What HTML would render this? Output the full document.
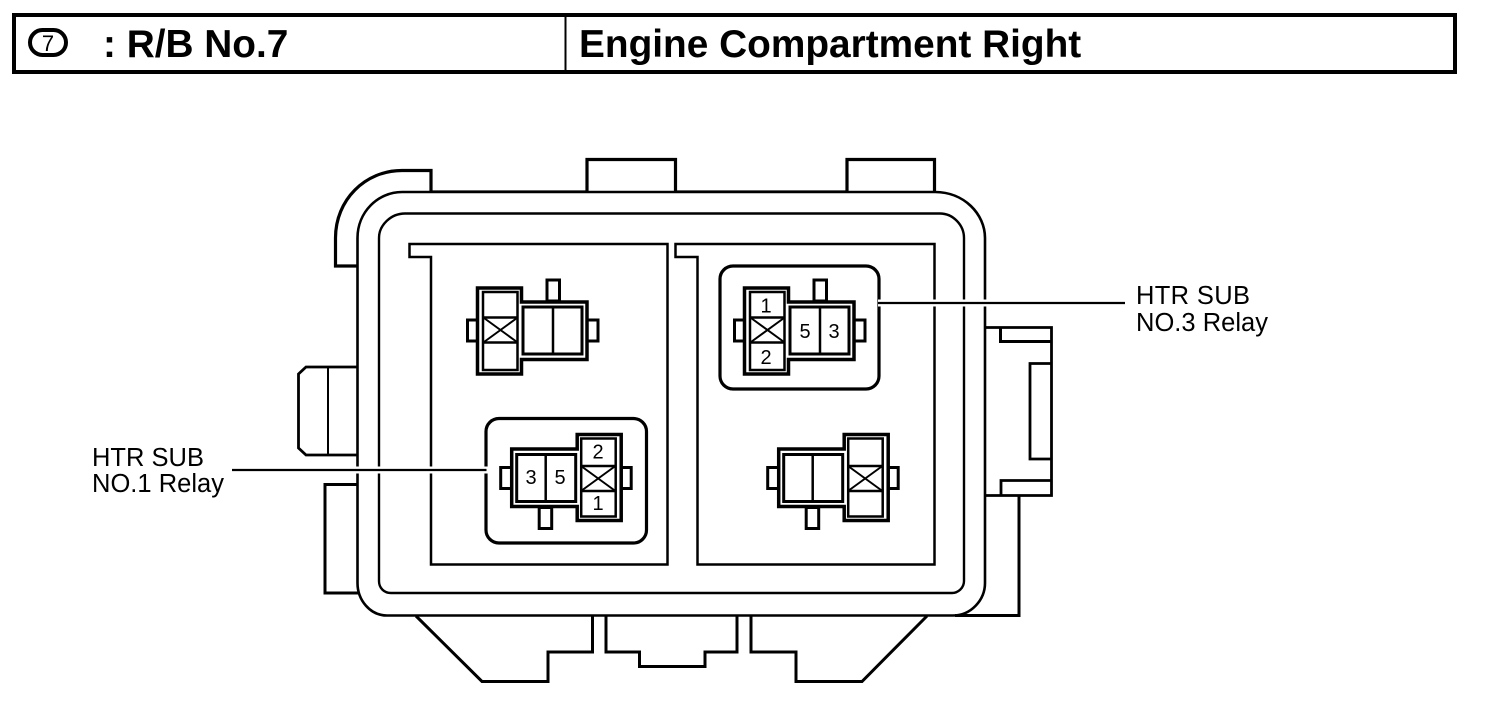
<!DOCTYPE html>
<html>
<head>
<meta charset="utf-8">
<style>
html,body{margin:0;padding:0;background:#fff;width:1504px;height:706px;overflow:hidden}
svg{display:block}
text{font-family:"Liberation Sans",sans-serif;fill:#000}
</style>
</head>
<body>
<svg width="1504" height="706" viewBox="0 0 1504 706" xmlns="http://www.w3.org/2000/svg">
<defs>
<g id="conn" fill="none" stroke="#000">
  <rect x="467.5" y="320" width="10" height="21" stroke-width="3"/>
  <rect x="587" y="320" width="11" height="21" stroke-width="3"/>
  <rect x="547" y="280" width="12.5" height="21" stroke-width="3"/>
  <path d="M477.5,288 H521.5 V302 H587 V359.5 H521.5 V374 H477.5 Z" fill="#fff" stroke-width="3.5"/>
  <rect x="483" y="292" width="34.5" height="78" stroke-width="2.5"/>
  <rect x="523" y="307" width="59" height="47" stroke-width="3"/>
  <path d="M553,307 V354" stroke-width="2.5"/>
  <path d="M483,317.5 H517.5 M483,342.5 H517.5" stroke-width="2.5"/>
  <path d="M484,318 L517,342 M517,318 L484,342" stroke-width="2"/>
</g>
</defs>

<!-- header -->
<rect x="14" y="15" width="1441" height="57" fill="none" stroke="#000" stroke-width="4"/>
<path d="M565.5,14 V72" stroke="#000" stroke-width="2"/>
<rect x="30" y="30" width="36" height="25" rx="12.5" fill="none" stroke="#000" stroke-width="4"/>
<text x="48" y="51" font-size="22" text-anchor="middle">7</text>
<text x="103" y="57" font-size="38.8" font-weight="bold">: R/B No.7</text>
<text x="579" y="57" font-size="38.8" font-weight="bold">Engine Compartment Right</text>

<g fill="none" stroke="#000" stroke-linejoin="miter">
  <!-- outer shell extensions -->
  <path d="M357,266 H335.5 V238 C335.5,200 365,170.5 402,170.5 H431 V192" stroke-width="3.2"/>
  <path d="M431,192 H587 V159.5 H675.5 V192 H847 V159.5 H934.5 V192" stroke-width="3.2"/>
  <!-- left tab -->
  <path d="M357,367 H306 L298.5,374 V448 L306,455 H357" stroke-width="2.8"/>
  <path d="M328,367 V455" stroke-width="2"/>
  <!-- lower left block -->
  <path d="M357,484.5 H325 V593 H360" stroke-width="3"/>
  <!-- right side -->
  <path d="M985,327.5 H1051.5 V495.5 H985" stroke-width="2.8"/>
  <path d="M1000.5,327.5 V341.5 H1051" stroke-width="3"/>
  <path d="M1051,363.5 H1030 V459 H1051" stroke-width="2.8"/>
  <path d="M1051,480.5 H1001 V495.5" stroke-width="2.8"/>
  <!-- bottom -->
  <path d="M416,616 L482,681.5 H548 V652 H592.5 V616" stroke-width="3"/>
  <path d="M606,616 V652 H639.5 V666.5 H705 V652 H737 V616" stroke-width="3"/>
  <path d="M751,616 V652 H796 V681.5 H862 L927,616" stroke-width="3"/>
  <!-- main shell -->
  <path d="M402,192 H935 C964,192 985,214 985,238 V583 C985,600 971,615.5 953,615.5 H387 C370,615.5 357.5,600 357.5,583 V238 C357.5,212 378,192 402,192 Z" stroke-width="2.6" fill="#fff"/>
  <path d="M587,192 V160 M675.5,192 V160 M847,192 V160 M934.5,192 V160" stroke-width="3"/>
  <path d="M1019,495.5 V615.5 H955" stroke-width="3"/>
  <path d="M405,213.5 H940 C953,213.5 964,225 964,238 V581 C964,588 958,593 952,593 H391 C384,593 379,588 379,581 V238 C379,225 391,213.5 405,213.5 Z" stroke-width="2.4"/>
  <!-- panels -->
  <path d="M409.5,244 H667.5 V564.5 H431 V257 H409.5 Z" stroke-width="2.5"/>
  <path d="M675.5,244 H934.5 V564.5 H697.5 V257 H675.5 Z" stroke-width="2.5"/>
  <!-- highlight boxes -->
  <rect x="720" y="266" width="159" height="123" rx="13" stroke-width="3.2" fill="#fff"/>
  <rect x="486" y="418.5" width="160.5" height="124.5" rx="13" stroke-width="3.2" fill="#fff"/>
</g>

<!-- connectors -->
<use href="#conn"/>
<use href="#conn" transform="translate(267,0)"/>
<use href="#conn" transform="translate(1098.7,808.5) scale(-1,-1)"/>
<use href="#conn" transform="translate(1365.7,808.5) scale(-1,-1)"/>

<!-- pin numbers -->
<g font-size="20" text-anchor="middle">
  <text x="766" y="312.5">1</text>
  <text x="766" y="364">2</text>
  <text x="805" y="338">5</text>
  <text x="834" y="338">3</text>
  <text x="531" y="484">3</text>
  <text x="560" y="484">5</text>
  <text x="598" y="458.5">2</text>
  <text x="598" y="510">1</text>
</g>

<!-- leader lines -->
<path d="M878,303 H1125" stroke="#fff" stroke-width="7" fill="none"/>
<path d="M878,303 H1125" stroke="#000" stroke-width="2.2" fill="none"/>
<path d="M232,470 H488" stroke="#fff" stroke-width="7" fill="none"/>
<path d="M232,470 H486.5" stroke="#000" stroke-width="2.2" fill="none"/>

<!-- labels -->
<g font-size="25.5">
  <text x="1136" y="304" textLength="114">HTR SUB</text>
  <text x="1136" y="331" textLength="132">NO.3 Relay</text>
  <text x="92" y="466" textLength="112">HTR SUB</text>
  <text x="92" y="492" textLength="132">NO.1 Relay</text>
</g>
</svg>
</body>
</html>
